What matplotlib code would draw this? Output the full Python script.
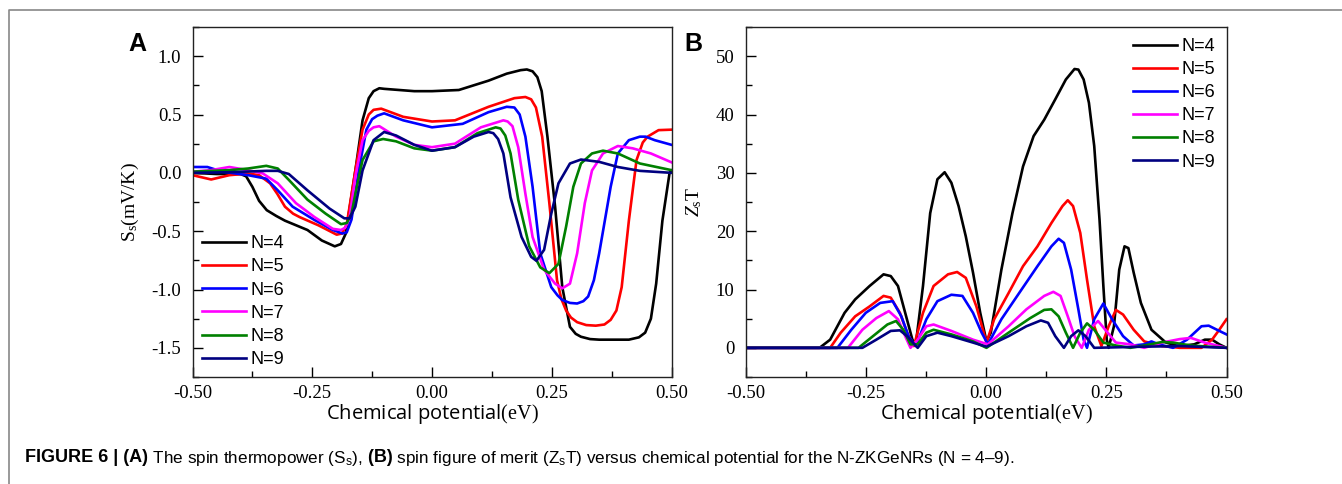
import matplotlib
matplotlib.use("Agg")
import matplotlib.pyplot as plt
from matplotlib.lines import Line2D
from matplotlib.ticker import MultipleLocator, FormatStrFormatter

plt.rcParams['font.family'] = ['Liberation Serif', 'DejaVu Serif']
plt.rcParams['mathtext.fontset'] = 'custom'
plt.rcParams['mathtext.rm'] = 'Liberation Serif'
plt.rcParams['mathtext.it'] = 'Liberation Serif:italic'
plt.rcParams['mathtext.sf'] = 'Liberation Sans'
plt.rcParams['axes.unicode_minus'] = False

labels = ['N=4', 'N=5', 'N=6', 'N=7', 'N=8', 'N=9']
colors = ['black', '#ff0000', '#0000ff', '#ff00ff', '#008000', '#000080']

# (A) spin thermopower S_s (mV/K)
sx4 = [-0.5, -0.45, -0.40, -0.388, -0.375, -0.361, -0.345, -0.325, -0.307, -0.26, -0.23, -0.203, -0.19, -0.18, -0.16,
       -0.145, -0.132, -0.122, -0.11, -0.10, -0.037, 0.0, 0.056, 0.118, 0.156, 0.185, 0.198, 0.21, 0.22, 0.229, 0.241,
       0.257, 0.272, 0.288, 0.30, 0.311, 0.33, 0.349, 0.411, 0.432, 0.445, 0.457, 0.468, 0.481, 0.496, 0.5]
sy4 = [0.0, -0.01, -0.01, -0.03, -0.12, -0.24, -0.32, -0.37, -0.41, -0.49, -0.58, -0.63, -0.61, -0.52, 0.02,
       0.45, 0.64, 0.70, 0.725, 0.72, 0.70, 0.70, 0.71, 0.79, 0.85, 0.88, 0.886, 0.87, 0.82, 0.70, 0.31,
       -0.29, -0.98, -1.32, -1.38, -1.405, -1.425, -1.43, -1.43, -1.41, -1.37, -1.25, -0.95, -0.41, 0.0, 0.02]

sx5 = [-0.5, -0.461, -0.423, -0.384, -0.361, -0.338, -0.323, -0.307, -0.29, -0.276, -0.237, -0.199, -0.188, -0.178, -0.16,
       -0.145, -0.132, -0.122, -0.106, -0.06, 0.0, 0.048, 0.118, 0.172, 0.195, 0.207, 0.217, 0.23, 0.245, 0.261, 0.27,
       0.28, 0.29, 0.303, 0.322, 0.342, 0.36, 0.373, 0.385, 0.396, 0.411, 0.427, 0.44, 0.45, 0.473, 0.5]
sy5 = [-0.02, -0.057, -0.02, -0.006, -0.02, -0.09, -0.18, -0.29, -0.35, -0.38, -0.45, -0.53, -0.52, -0.44, 0.02,
       0.37, 0.50, 0.54, 0.55, 0.48, 0.44, 0.45, 0.566, 0.64, 0.65, 0.63, 0.56, 0.31, -0.26, -0.92, -1.08,
       -1.18, -1.24, -1.28, -1.305, -1.31, -1.30, -1.26, -1.18, -0.98, -0.41, 0.11, 0.26, 0.31, 0.366, 0.37]

sx6 = [-0.5, -0.469, -0.438, -0.384, -0.346, -0.322, -0.291, -0.245, -0.207, -0.187, -0.178, -0.168, -0.153,
       -0.137, -0.125, -0.114, -0.10, -0.06, 0.0, 0.064, 0.118, 0.156, 0.172, 0.183, 0.195, 0.21, 0.226, 0.249, 0.262,
       0.272, 0.288, 0.303, 0.316, 0.326, 0.338, 0.349, 0.373, 0.388, 0.411, 0.434, 0.446, 0.465, 0.5]
sy6 = [0.05, 0.05, 0.01, -0.02, -0.05, -0.15, -0.29, -0.405, -0.49, -0.52, -0.51, -0.40, 0.02,
       0.37, 0.46, 0.49, 0.51, 0.45, 0.39, 0.42, 0.52, 0.566, 0.56, 0.50, 0.31, -0.12, -0.69, -0.98, -1.05,
       -1.09, -1.115, -1.12, -1.10, -1.06, -0.92, -0.69, -0.12, 0.166, 0.28, 0.31, 0.31, 0.28, 0.24]

sx7 = [-0.5, -0.461, -0.423, -0.384, -0.353, -0.322, -0.284, -0.245, -0.207, -0.19, -0.181, -0.172, -0.16,
       -0.145, -0.132, -0.122, -0.11, -0.075, -0.037, 0.0, 0.048, 0.102, 0.149, 0.158, 0.168, 0.18, 0.195, 0.21, 0.234,
       0.257, 0.272, 0.288, 0.303, 0.319, 0.334, 0.357, 0.388, 0.419, 0.457, 0.5]
sy7 = [0.01, 0.023, 0.05, 0.023, -0.006, -0.09, -0.26, -0.38, -0.48, -0.49, -0.47, -0.38, -0.03,
       0.28, 0.36, 0.39, 0.40, 0.31, 0.24, 0.22, 0.25, 0.39, 0.45, 0.44, 0.40, 0.22, -0.18, -0.55, -0.83,
       -0.95, -0.99, -0.95, -0.69, -0.26, 0.02, 0.166, 0.23, 0.21, 0.166, 0.09]

sx8 = [-0.5, -0.423, -0.384, -0.346, -0.322, -0.299, -0.26, -0.222, -0.19, -0.178, -0.168, -0.16,
       -0.145, -0.122, -0.102, -0.075, -0.037, 0.0, 0.048, 0.095, 0.133, 0.143, 0.153, 0.164, 0.18, 0.203, 0.226, 0.245,
       0.264, 0.28, 0.295, 0.311, 0.334, 0.357, 0.388, 0.434, 0.5]
sy8 = [0.01, 0.023, 0.037, 0.06, 0.037, -0.06, -0.23, -0.35, -0.44, -0.43, -0.35, -0.18,
       0.11, 0.27, 0.29, 0.27, 0.21, 0.19, 0.22, 0.34, 0.39, 0.38, 0.32, 0.166, -0.23, -0.63, -0.81, -0.86,
       -0.78, -0.46, -0.12, 0.08, 0.166, 0.19, 0.166, 0.08, 0.023]

sx9 = [-0.5, -0.423, -0.346, -0.322, -0.299, -0.26, -0.214, -0.183, -0.172, -0.16,
       -0.145, -0.122, -0.10, -0.075, -0.037, 0.0, 0.048, 0.087, 0.118, 0.128, 0.138, 0.149, 0.164, 0.187, 0.207,
       0.218, 0.234, 0.249, 0.264, 0.288, 0.311, 0.349, 0.388, 0.434, 0.5]
sy9 = [0.0, 0.005, 0.017, 0.017, -0.01, -0.15, -0.306, -0.39, -0.39, -0.29,
       0.02, 0.28, 0.35, 0.32, 0.24, 0.19, 0.22, 0.31, 0.35, 0.34, 0.29, 0.166, -0.21, -0.55, -0.72,
       -0.754, -0.66, -0.35, -0.09, 0.08, 0.114, 0.094, 0.05, 0.017, 0.0]

# (B) spin figure of merit Z_sT
zx4 = [-0.5, -0.346, -0.324, -0.294, -0.272, -0.242, -0.213, -0.198, -0.183, -0.168, -0.153, -0.146, -0.131, -0.116,
       -0.101, -0.086, -0.072, -0.057, -0.042, -0.027, -0.012, 0.001, 0.01, 0.032, 0.055, 0.077, 0.099, 0.121, 0.144,
       0.166, 0.184, 0.192, 0.203, 0.214, 0.225, 0.236, 0.244, 0.251, 0.255, 0.266, 0.277, 0.288, 0.296, 0.307, 0.322,
       0.344, 0.374, 0.403, 0.433, 0.455, 0.47, 0.485, 0.5]
zy4 = [0, 0, 1.4, 6, 8.3, 10.6, 12.6, 12.3, 10.6, 6, 1.4, 0.6, 10.6, 23.1,
       28.9, 30.1, 28.3, 24.3, 19.1, 12.9, 6, 1.1, 2.6, 13.4, 23.1, 31.1, 36.3, 39.1, 42.6,
       46, 47.8, 47.7, 46, 42, 34.6, 22, 10.6, 1.4, 0, 3.7, 13.4, 17.4, 17.1, 12.9, 7.7,
       3.1, 0.9, 0.3, 0.6, 1.4, 1.4, 0.6, 0]

zx5 = [-0.5, -0.324, -0.302, -0.272, -0.242, -0.213, -0.198, -0.179, -0.164, -0.15, -0.131, -0.109, -0.079, -0.06,
       -0.042, -0.02, 0.001, 0.017, 0.047, 0.077, 0.107, 0.136, 0.159, 0.17, 0.181, 0.196, 0.21, 0.225, 0.24, 0.255,
       0.27, 0.285, 0.307, 0.329, 0.366, 0.403, 0.448, 0.47, 0.485, 0.5]
zy5 = [0, 0, 2.6, 5.4, 7.1, 8.9, 8.6, 6, 2.6, 0.3, 6, 10.6, 12.6, 13,
       12, 7.1, 0.9, 4.9, 9.4, 14, 17.4, 21.4, 24.3, 25.3, 24.3, 19.7, 11.7, 3.7, 0.3, 3.7,
       6.5, 5.7, 3.1, 1.1, 0.3, 0, 0, 1.4, 3.1, 4.9]

zx6 = [-0.5, -0.309, -0.28, -0.25, -0.22, -0.194, -0.176, -0.161, -0.146, -0.124, -0.101, -0.072, -0.049, -0.027,
       -0.009, 0.004, 0.032, 0.069, 0.107, 0.136, 0.151, 0.162, 0.177, 0.192, 0.203, 0.21, 0.225, 0.244, 0.262, 0.285,
       0.307, 0.329, 0.344, 0.359, 0.389, 0.418, 0.448, 0.463, 0.485, 0.5]
zy6 = [0, 0, 3.1, 6, 7.7, 8, 5.4, 2, 0.3, 4.9, 8, 9.1, 8.9, 6,
       2.6, 0.6, 4.9, 9.4, 14, 17.4, 18.7, 18, 13.4, 6.6, 1.4, 0, 4.9, 7.6, 4.9, 2,
       0.4, 0.6, 1.1, 0.6, 0, 1.4, 3.7, 3.8, 2.9, 2.3]

zx7 = [-0.5, -0.287, -0.257, -0.228, -0.202, -0.183, -0.168, -0.157, -0.142, -0.124, -0.109, -0.072, -0.027, 0.004,
       0.047, 0.084, 0.121, 0.14, 0.155, 0.17, 0.184, 0.199, 0.214, 0.233, 0.248, 0.27, 0.30, 0.329, 0.366, 0.403,
       0.426, 0.455, 0.5]
zy7 = [0, 0, 3.1, 5.1, 6.3, 4.9, 2, 0, 1.4, 3.7, 4, 2.9, 1.4, 0.6,
       3.7, 6.6, 8.9, 9.6, 8.9, 5.4, 2, 0, 3.1, 4.6, 3.1, 0.9, 0.6, 0, 0.9, 1.5,
       1.7, 0.9, 0]

zx8 = [-0.5, -0.265, -0.235, -0.205, -0.187, -0.172, -0.157, -0.142, -0.124, -0.109, -0.072, -0.027, 0.001, 0.047,
       0.092, 0.121, 0.136, 0.151, 0.166, 0.181, 0.196, 0.21, 0.225, 0.244, 0.27, 0.30, 0.329, 0.366, 0.389, 0.426, 0.5]
zy8 = [0, 0, 2, 4, 4.6, 3.1, 0.6, 0.6, 2.6, 3.1, 2.3, 1.1, 0, 2.6,
       5.1, 6.5, 6.6, 5.4, 2.6, 0, 2.6, 4.2, 3.1, 0.9, 0.4, 0, 0.4, 1, 0.9, 0.4, 0]

zx9 = [-0.5, -0.257, -0.228, -0.198, -0.179, -0.164, -0.142, -0.124, -0.101, -0.072, -0.027, 0.001, 0.047, 0.084,
       0.114, 0.129, 0.144, 0.162, 0.177, 0.192, 0.207, 0.225, 0.329, 0.403, 0.5]
zy9 = [0, 0, 1.4, 2.9, 3, 2, 0, 2, 2.6, 2, 0.9, 0.2, 2, 3.7,
       4.7, 4.3, 2, 0, 2, 3, 2, 0, 0.2, 0.3, 0]

s_series = [(sx4, sy4), (sx5, sy5), (sx6, sy6), (sx7, sy7), (sx8, sy8), (sx9, sy9)]
z_series = [(zx4, zy4), (zx5, zy5), (zx6, zy6), (zx7, zy7), (zx8, zy8), (zx9, zy9)]

W, H = 1342, 484
fig = plt.figure(figsize=(W / 100, H / 100), dpi=100)

# axes boxes in pixels, as measured on the reference
axA = fig.add_axes([192.5 / W, 1 - 377 / H, 479 / W, 350 / H])
axB = fig.add_axes([745.5 / W, 1 - 377 / H, 481 / W, 350 / H])


def style(ax):
    ax.set_xlim(-0.5, 0.5)
    ax.xaxis.set_major_locator(MultipleLocator(0.25))
    ax.xaxis.set_minor_locator(MultipleLocator(0.125))
    ax.xaxis.set_major_formatter(FormatStrFormatter('%.2f'))
    ax.tick_params(which='both', direction='in', top=False, right=False, labelsize=13.5, width=1)
    ax.tick_params(which='major', length=7)
    ax.tick_params(which='minor', length=4.5)
    ax.tick_params(axis='y', pad=8)
    ax.tick_params(axis='x', pad=6)
    for sp in ax.spines.values():
        sp.set_linewidth(1.0)
        sp.set_color('#222222')
    ax.set_xlabel(r'Chemical potential$\mathrm{(eV)}$', family='Open Sans', fontsize=14.5, labelpad=0)


leg_kw = dict(frameon=False, prop={'family': 'Liberation Sans', 'size': 13},
              handlelength=2.44, handletextpad=0.28, labelspacing=0.34)

for (x, y), c, lab in zip(s_series, colors, labels):
    axA.plot(x, y, color=c, lw=1.9, label=lab, solid_joinstyle='round')
axA.set_ylim(-1.75, 1.25)
axA.yaxis.set_major_locator(MultipleLocator(0.5))
axA.yaxis.set_minor_locator(MultipleLocator(0.25))
axA.yaxis.set_major_formatter(FormatStrFormatter('%.1f'))
style(axA)
axA.set_ylabel(r'$\mathrm{S_s(mV/K)}$', fontsize=14)
axA.yaxis.set_label_coords(-0.108, 0.5)
axA.legend(loc='lower left', borderaxespad=0.1, **leg_kw)

for (x, y), c, lab in zip(z_series, colors, labels):
    axB.plot(x, y, color=c, lw=1.9, label=lab, solid_joinstyle='round')
axB.set_ylim(-5, 55)
axB.yaxis.set_major_locator(MultipleLocator(10))
axB.yaxis.set_minor_locator(MultipleLocator(5))
style(axB)
axB.set_ylabel(r'$\mathit{Z}_\mathrm{s}\mathrm{T}$', fontsize=14)
axB.yaxis.set_label_coords(-0.086, 0.5)
axB.legend(loc='upper right', borderaxespad=0.2, **leg_kw)

fig.text(137 / W, 1 - 44 / H, 'A', family='Liberation Sans', fontweight='bold', fontsize=18, ha='center', va='center')
fig.text(693 / W, 1 - 44 / H, 'B', family='Liberation Sans', fontweight='bold', fontsize=18, ha='center', va='center')

# gray frame around the figure body
fig.add_artist(Line2D([9 / W, 9 / W, 1.0], [0.0, 1 - 10 / H, 1 - 10 / H], transform=fig.transFigure,
                      color='#888888', lw=1.2))

# caption, run by run (spaces lead each run so they are measured)
runs = [('FIGURE 6 | (A)', 'bold', 13),
        (r' The spin thermopower ($\mathsf{S_s}$),', 'normal', 12.3),
        (' (B)', 'bold', 13),
        (r' spin figure of merit ($\mathsf{Z_sT}$) versus chemical potential for the N-ZKGeNRs (N = 4–9).',
         'normal', 12.3)]
renderer = fig.canvas.get_renderer()
xpos = 25 / W
for s, w, fs in runs:
    t = fig.text(xpos, 1 - 458 / H, s, family='Liberation Sans', fontweight=w, fontsize=fs, va='center')
    bb = t.get_window_extent(renderer=renderer)
    xpos = bb.x1 / fig.bbox.width

fig.savefig('out.png', dpi=100)
